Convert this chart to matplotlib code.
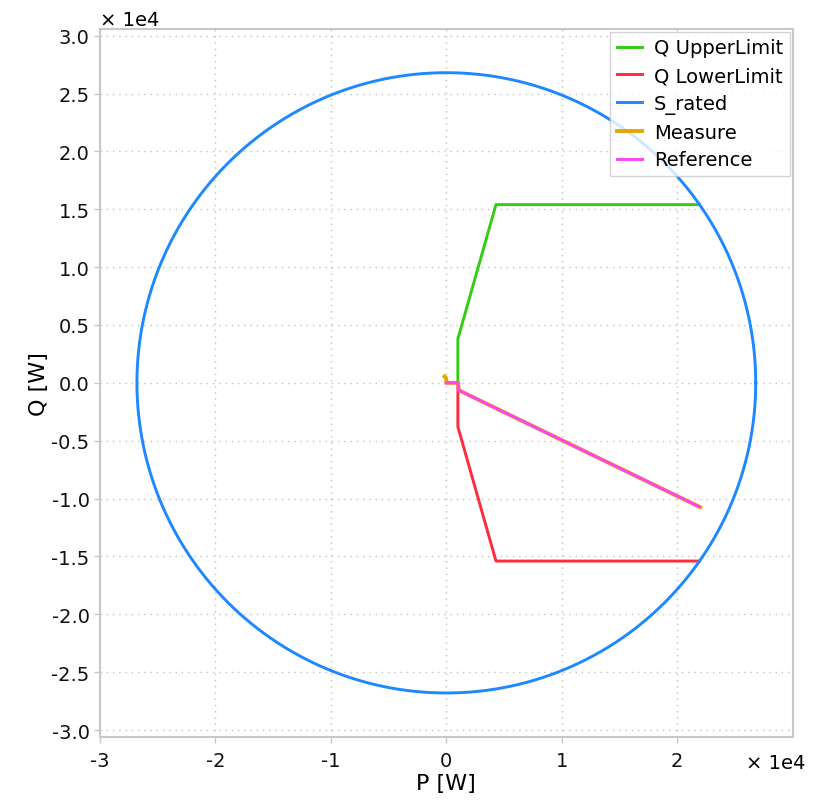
import numpy as np
import matplotlib.pyplot as plt
from matplotlib.ticker import FuncFormatter, MultipleLocator

# data in W
s_rated = 26800
upper_p = [1000, 1000, 4300, 21930]
upper_q = [0, 3800, 15400, 15400]
lower_p = [1000, 1000, 4300, 21930]
lower_q = [0, -3800, -15400, -15400]
measure_p = [-150, -50, 0, 0, 1000, 1100, 22000]
measure_q = [550, 450, 300, 0, 0, -650, -10750]
ref_p = [0, 1000, 1100, 21900]
ref_q = [0, 0, -650, -10700]

plt.rcParams['font.family'] = ['DejaVu Sans']

fig = plt.figure(figsize=(8.13, 8.03), dpi=100)
ax = fig.add_axes([0.123, 0.081, 0.852, 0.882])

theta = np.linspace(0, 2 * np.pi, 721)
ax.plot(upper_p, upper_q, color='#33cc11', lw=2.1, label='Q UpperLimit')
ax.plot(lower_p, lower_q, color='#ff2a3a', lw=2.1, label='Q LowerLimit')
ax.plot(s_rated * np.cos(theta), s_rated * np.sin(theta), color='#1e88ff', lw=2.1, label='S_rated')
ax.plot(measure_p, measure_q, color='#e0a800', lw=2.8, label='Measure')
ax.plot(ref_p, ref_q, color='#ff44ee', lw=2.1, label='Reference')

ax.set_xlim(-30000, 30000)
ax.set_ylim(-30600, 30600)
ax.xaxis.set_major_locator(MultipleLocator(10000))
ax.yaxis.set_major_locator(MultipleLocator(5000))
ax.xaxis.set_major_formatter(FuncFormatter(lambda v, p: '%d' % round(v / 1e4)))
ax.yaxis.set_major_formatter(FuncFormatter(lambda v, p: '%.1f' % (v / 1e4)))
ax.set_xticks([-30000, -20000, -10000, 0, 10000, 20000])

ax.grid(True, color='#c0c0c0', linestyle=(0, (1, 3.5)), lw=1)
for s in ax.spines.values():
    s.set_color('#c8c8c8')
    s.set_linewidth(1.5)
ax.tick_params(colors='#c8c8c8', labelcolor='#111111', labelsize=14, length=4, width=1)
ax.tick_params(axis='x', pad=6)

ax.set_xlabel('P [W]', fontsize=16, labelpad=2)
ax.set_ylabel('Q [W]', fontsize=16, labelpad=2)
fig.text(0.123, 0.975, '× 1e4', fontsize=14, ha='left', va='center')
fig.text(0.918, 0.049, '× 1e4', fontsize=14, ha='left', va='center')

leg = ax.legend(loc='upper right', fontsize=14, frameon=True, fancybox=False,
                handlelength=1.3, handletextpad=0.6, borderaxespad=0.15,
                labelspacing=0.45, borderpad=0.35)
leg.get_frame().set_edgecolor('#c8c8c8')

fig.savefig('out.png')
